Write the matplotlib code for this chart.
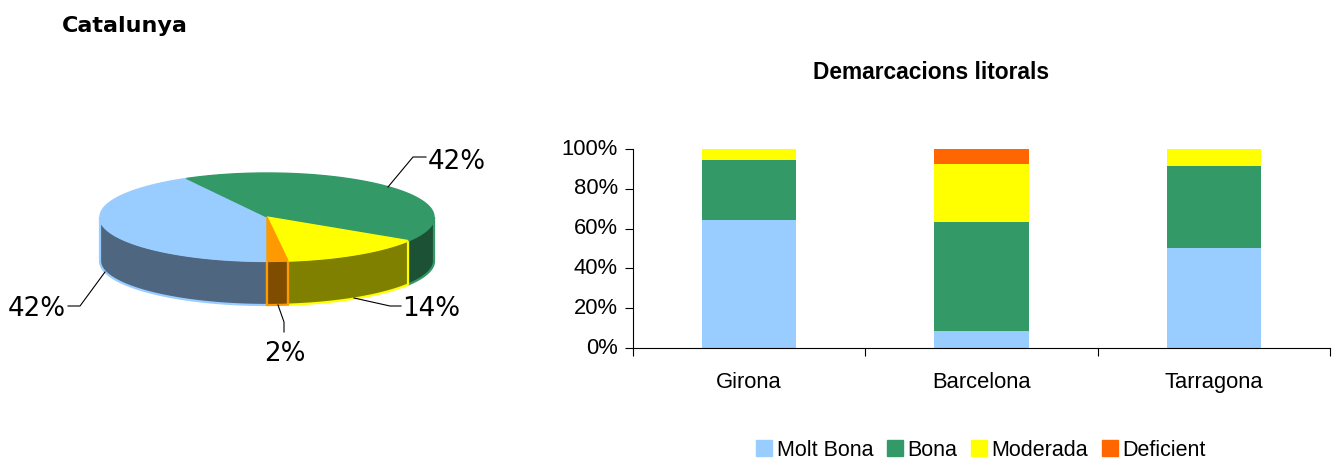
import numpy as np
import matplotlib
matplotlib.use('Agg')
import matplotlib.pyplot as plt
from matplotlib.patches import Patch, Polygon
from matplotlib.transforms import ScaledTranslation

# Data
pie_labels = ['Molt Bona', 'Bona', 'Moderada', 'Deficient']
pie_values = [42, 42, 14, 2]
pie_texts = ['42%', '42%', '14%', '2%']

regions = ['Girona', 'Barcelona', 'Tarragona']
molt_bona = [64.5, 8.5, 50.5]
bona = [30, 55, 41]
moderada = [5.5, 29, 8.5]
deficient = [0, 7.5, 0]

colors = ['#99ccff', '#339966', '#ffff00', '#ff6600']
pie_tops = ['#99ccff', '#339966', '#ffff00', '#ff9900']
pie_sides = ['#4f6680', '#1c5135', '#808000', '#804d00']

W, H = 1339, 461
fig = plt.figure(figsize=(W / 100, H / 100), dpi=100, facecolor='white')

# Full figure axes in pixels, used for the 3D pie and the titles
bg = fig.add_axes([0, 0, 1, 1])
bg.set_xlim(0, W)
bg.set_ylim(H, 0)
bg.axis('off')

cx, cy, rx, ry, depth = 267, 217, 167, 44, 44


def rim(a0, a1, dy=0):
    t = np.radians(np.linspace(a0, a1, 120))
    return np.column_stack([cx + rx * np.cos(t), cy - ry * np.sin(t) + dy])


# Pie goes clockwise starting from straight down
edges = 270 - np.cumsum([0] + pie_values) * 360 / sum(pie_values)
for i in range(len(pie_values)):
    a0, a1 = edges[i], edges[i + 1]
    # only the part of the rim in front of the pie has a visible side
    for shift in (0, -360):
        lo, hi = max(a1, 180 + shift), min(a0, 360 + shift)
        if lo < hi:
            top = rim(hi, lo)
            bottom = rim(lo, hi, depth)
            bg.add_patch(Polygon(np.vstack([top, bottom]), closed=True, fc=pie_sides[i],
                                 ec=pie_tops[i], lw=1.6, zorder=2))
for i in range(len(pie_values)):
    pts = np.vstack([[cx, cy], rim(edges[i], edges[i + 1])])
    bg.add_patch(Polygon(pts, closed=True, fc=pie_tops[i], ec=pie_tops[i], lw=1.0, zorder=3))

# Pie labels with their leader lines
label_pos = [(37, 308.5), (457, 161.5), (431, 308.5), (285, 353.5)]
leaders = [[(105, 272), (80, 306), (68, 306)],
           [(388, 187), (413, 157), (426, 157)],
           [(354, 298), (390, 306), (401, 306)],
           [(278, 305), (284, 322), (284, 332)]]
for txt, pos, line in zip(pie_texts, label_pos, leaders):
    bg.text(pos[0], pos[1], txt, family='DejaVu Sans', fontsize=18.8, ha='center', va='center',
            color='black', zorder=5)
    xs, ys = zip(*line)
    bg.plot(xs, ys, color='black', lw=0.8, zorder=4)

bg.text(62, 26, 'Catalunya', family='DejaVu Sans', fontweight='bold', fontsize=16,
        ha='left', va='center', color='black')
bg.text(931, 72.5, 'Demarcacions litorals', family='Liberation Sans', fontweight='bold',
        fontsize=16.4, ha='center', va='center', color='black')

# Stacked bars
ax = fig.add_axes([633 / W, 1 - 348 / H, 697 / W, 199 / H])
x = np.arange(len(regions))
bottom = np.zeros(len(regions))
for vals, col in zip([molt_bona, bona, moderada, deficient], colors):
    ax.bar(x, vals, width=0.405, bottom=bottom, color=col, linewidth=0)
    bottom = bottom + np.array(vals)

ax.set_xlim(-0.5, 2.5)
ax.set_ylim(0, 100)
ax.set_yticks(range(0, 101, 20))
ax.set_yticklabels([f'{v}%' for v in range(0, 101, 20)])
ax.set_xticks([-0.5, 0.5, 1.5, 2.5])
ax.set_xticklabels([])
ax.set_xticks(x, minor=True)
ax.set_xticklabels(regions, minor=True)
ax.tick_params(axis='x', which='major', length=6, width=0.8, direction='out')
ax.tick_params(axis='x', which='minor', length=0, pad=17.5)
ax.tick_params(axis='y', length=6, width=0.8, direction='out', pad=5)
for label in ax.get_xticklabels(minor=True) + ax.get_yticklabels():
    label.set_family('Liberation Sans')
    label.set_fontsize(15.8)
# y labels sit a little above their ticks
up = ScaledTranslation(0, 2.5 / 100, fig.dpi_scale_trans)
for label in ax.get_yticklabels():
    label.set_transform(label.get_transform() + up)
ax.spines['top'].set_visible(False)
ax.spines['right'].set_visible(False)
ax.patch.set_alpha(0)

handles = [Patch(color=c, label=l) for c, l in zip(colors, pie_labels)]
fig.legend(handles=handles, ncol=4, loc='center', bbox_to_anchor=(981 / W, 1 - 450 / H),
           frameon=False, handlelength=0.75, handleheight=0.8, handletextpad=0.19,
           columnspacing=0.65, borderpad=0, prop={'family': 'Liberation Sans', 'size': 15.5})

plt.savefig('out.png', dpi=100)
